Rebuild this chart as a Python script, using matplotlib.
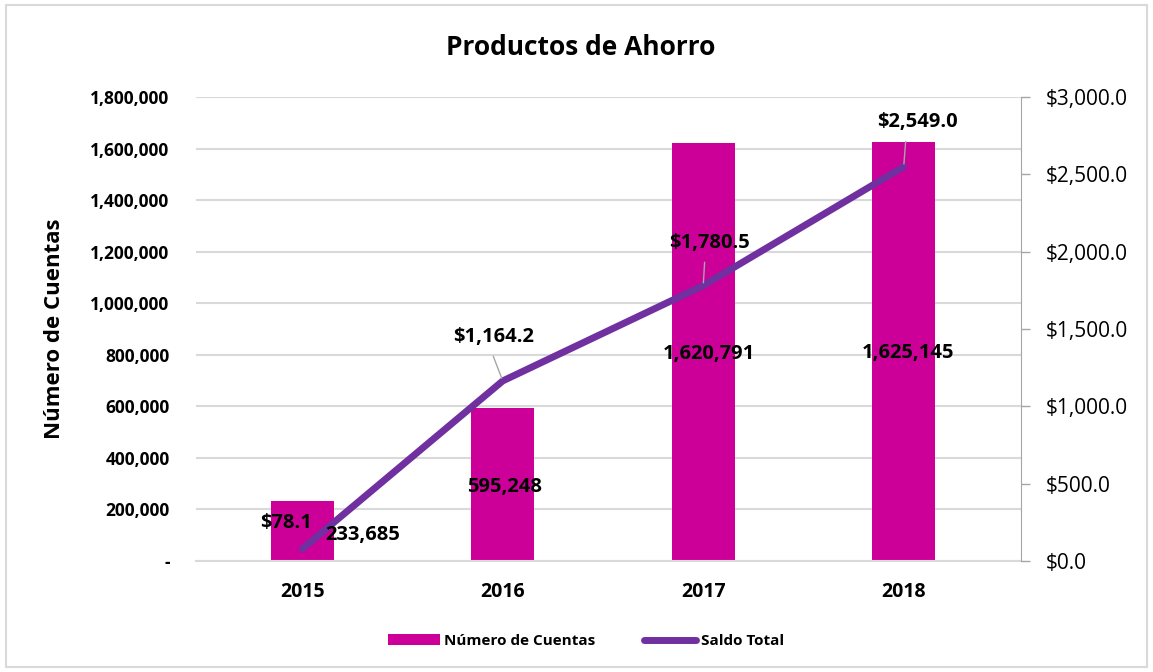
import matplotlib
matplotlib.use("Agg")
import matplotlib.pyplot as plt
from matplotlib.patches import Rectangle
from matplotlib.ticker import FuncFormatter, MultipleLocator
import numpy as np

# datos
years = ["2015", "2016", "2017", "2018"]
cuentas = [233685, 595248, 1620791, 1625145]
saldo = [78.1, 1164.2, 1780.5, 2549.0]

bar_color = "#CC0099"
line_color = "#7030A0"
grid_color = "#D9D9D9"
leader_color = "#A6A6A6"

plt.rcParams["font.family"] = ["Open Sans", "DejaVu Sans"]

fig = plt.figure(figsize=(11.53, 6.72), dpi=100)
fig.patches.append(Rectangle((0.005, 0.007), 0.99, 0.985, transform=fig.transFigure,
                             fill=False, edgecolor=grid_color, lw=1.5))

ax = fig.add_axes([0.170, 0.1652, 0.7155, 0.6905])
ax2 = ax.twinx()

x = np.arange(len(years))
bars = ax.bar(x, cuentas, width=0.315, color=bar_color, zorder=2, label="Número de Cuentas")
line, = ax2.plot(x, saldo, color=line_color, lw=5, solid_capstyle="round",
                 zorder=3, label="Saldo Total")

ax.set_xlim(-0.53, 3.585)
ax.set_ylim(0, 1800000)
ax2.set_ylim(0, 3000)

ax.yaxis.set_major_locator(MultipleLocator(200000))
ax.yaxis.set_major_formatter(FuncFormatter(lambda v, p: "-" if v == 0 else f"{v:,.0f}"))
ax2.yaxis.set_major_locator(MultipleLocator(500))
ax2.yaxis.set_major_formatter(FuncFormatter(lambda v, p: f"${v:,.1f}"))

ax.grid(axis="y", color=grid_color, lw=1.5, zorder=0)
ax.set_axisbelow(True)
for s in ["top", "left", "right"]:
    ax.spines[s].set_visible(False)
for s in ["top", "left", "bottom"]:
    ax2.spines[s].set_visible(False)
ax.spines["bottom"].set_color(grid_color)
ax.spines["bottom"].set_linewidth(1.5)
ax2.spines["right"].set_color(leader_color)

ax.set_xticks(x)
ax.set_xticklabels(years, fontsize=14, fontweight="bold")
ax.tick_params(axis="x", length=0, pad=15)
ax.tick_params(axis="y", length=0, pad=19, labelsize=12.5)
for t in ax.get_yticklabels():
    t.set_fontweight("bold")
ax2.tick_params(axis="y", length=6.5, width=1, color=leader_color, pad=11, labelsize=15)

ax.set_ylabel("Número de Cuentas", fontsize=16, fontweight="bold", labelpad=18)
fig.text(0.504, 0.930, "Productos de Ahorro", ha="center", va="center",
         fontsize=19, fontweight="bold")

# etiquetas de barras (offsets en pixeles)
bar_offsets = [(60, -34), (2, -79), (6, -211), (4, -211)]
for i, v in enumerate(cuentas):
    ax2.annotate(f"{v:,.0f}", xy=(x[i], v), xycoords=ax.transData,
                 xytext=bar_offsets[i], textcoords="offset pixels",
                 ha="center", va="center", fontsize=14.5, fontweight="bold", zorder=5)

# etiquetas de línea
line_offsets = [(-16, 26), (-9, 44), (6, 43), (14, 45)]
leader_rel = [None, 0.45, 0.45, 0.36]
for i, v in enumerate(saldo):
    arrow = None
    if leader_rel[i] is not None:
        arrow = dict(arrowstyle="-", color=leader_color, lw=1, shrinkA=5, shrinkB=2,
                     relpos=(leader_rel[i], 0))
    ax2.annotate(f"${v:,.1f}", xy=(x[i], v), xytext=line_offsets[i],
                 textcoords="offset pixels", ha="center", va="center",
                 fontsize=14.5, fontweight="bold", arrowprops=arrow, zorder=5)

fig.legend(handles=[bars, line], loc="center", bbox_to_anchor=(0.508, 0.046),
           ncol=2, frameon=False, prop={"weight": "bold", "size": 11},
           handlelength=3.4, handletextpad=0.3, columnspacing=3.2)

fig.savefig("out.png", dpi=100)
